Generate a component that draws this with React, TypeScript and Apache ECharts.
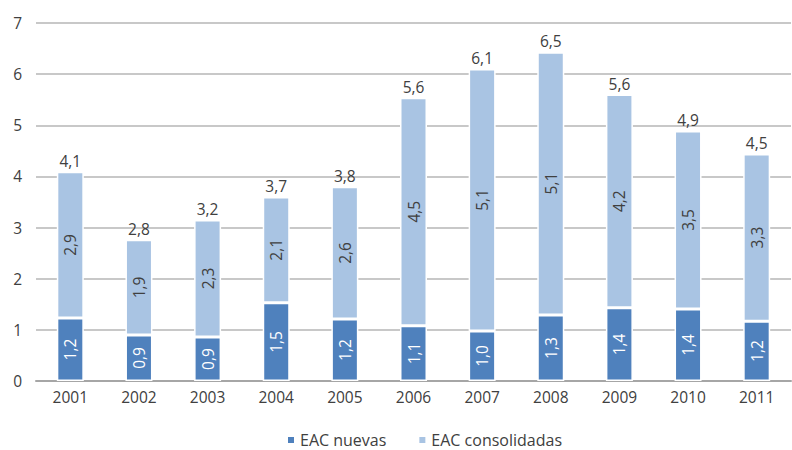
import React, { useEffect, useRef } from "react";
import * as echarts from "echarts";

const years = ["2001", "2002", "2003", "2004", "2005", "2006", "2007", "2008", "2009", "2010", "2011"];
const nuevas = [1.23, 0.9, 0.86, 1.53, 1.21, 1.08, 0.98, 1.29, 1.43, 1.41, 1.17];
const consolidadas = [2.86, 1.86, 2.29, 2.07, 2.59, 4.46, 5.12, 5.14, 4.17, 3.48, 3.27];
const totals = [4.1, 2.8, 3.2, 3.7, 3.8, 5.6, 6.1, 6.5, 5.6, 4.9, 4.5];
const yTicks = [0, 1, 2, 3, 4, 5, 6, 7];

const fmt = (v: number) => v.toFixed(1).replace(".", ",");
const FONT = "Open Sans";
const TEXT = "#404040";
const FS = 15.5;

export default function App() {
  const ref = useRef<HTMLDivElement>(null);
  useEffect(() => {
    const chart = echarts.init(ref.current!, null, { renderer: "svg" });
    chart.setOption({
      animation: false,
      textStyle: { fontFamily: FONT, color: TEXT },
      grid: { left: 36, right: 1, top: 23, bottom: 69, containLabel: false },
      legend: {
        top: 432,
        left: 286,
        padding: 0,
        itemWidth: 8,
        itemHeight: 8,
        itemGap: 31,
        icon: "rect",
        textStyle: { fontFamily: FONT, color: TEXT, fontSize: 16, lineHeight: 16 },
        data: ["EAC nuevas", "EAC consolidadas"],
      },
      xAxis: {
        type: "category",
        data: years,
        axisTick: { show: false },
        axisLine: { lineStyle: { color: "#a6a6a6", width: 2 } },
        axisLabel: { color: TEXT, fontSize: FS, fontFamily: FONT, margin: 8 },
      },
      yAxis: {
        type: "value",
        min: yTicks[0],
        max: yTicks[yTicks.length - 1],
        interval: 1,
        axisLine: { show: false },
        axisTick: { show: false },
        splitLine: { lineStyle: { color: "#c8c8c8", width: 2 } },
        axisLabel: { color: TEXT, fontSize: FS, fontFamily: FONT, margin: 14 },
      },
      series: [
        {
          name: "EAC nuevas",
          type: "bar",
          stack: "t",
          barWidth: 27,
          data: nuevas,
          itemStyle: { color: "#4f81bd", borderColor: "#ffffff", borderWidth: 1.5 },
          label: {
            show: true,
            position: "inside",
            rotate: 90,
            color: "#ffffff",
            fontSize: FS,
            fontFamily: FONT,
            formatter: (p: any) => fmt(p.value),
          },
        },
        {
          name: "EAC consolidadas",
          type: "bar",
          stack: "t",
          barWidth: 27,
          data: consolidadas,
          itemStyle: { color: "#a9c4e3", borderColor: "#ffffff", borderWidth: 1.5 },
          label: {
            show: true,
            position: "inside",
            rotate: 90,
            color: TEXT,
            fontSize: FS,
            fontFamily: FONT,
            formatter: (p: any) => fmt(p.value),
          },
        },
        {
          name: "total",
          type: "bar",
          stack: "t",
          barWidth: 27,
          data: totals.map(() => 0),
          itemStyle: { color: "transparent" },
          label: {
            show: true,
            position: "top",
            distance: 3,
            color: TEXT,
            fontSize: FS,
            fontFamily: FONT,
            formatter: (p: any) => fmt(totals[p.dataIndex]),
          },
          silent: true,
        },
      ],
    });
    return () => chart.dispose();
  }, []);
  return <div ref={ref} style={{ width: 792, height: 450, position: "absolute", left: 0, top: 0 }} />;
}
